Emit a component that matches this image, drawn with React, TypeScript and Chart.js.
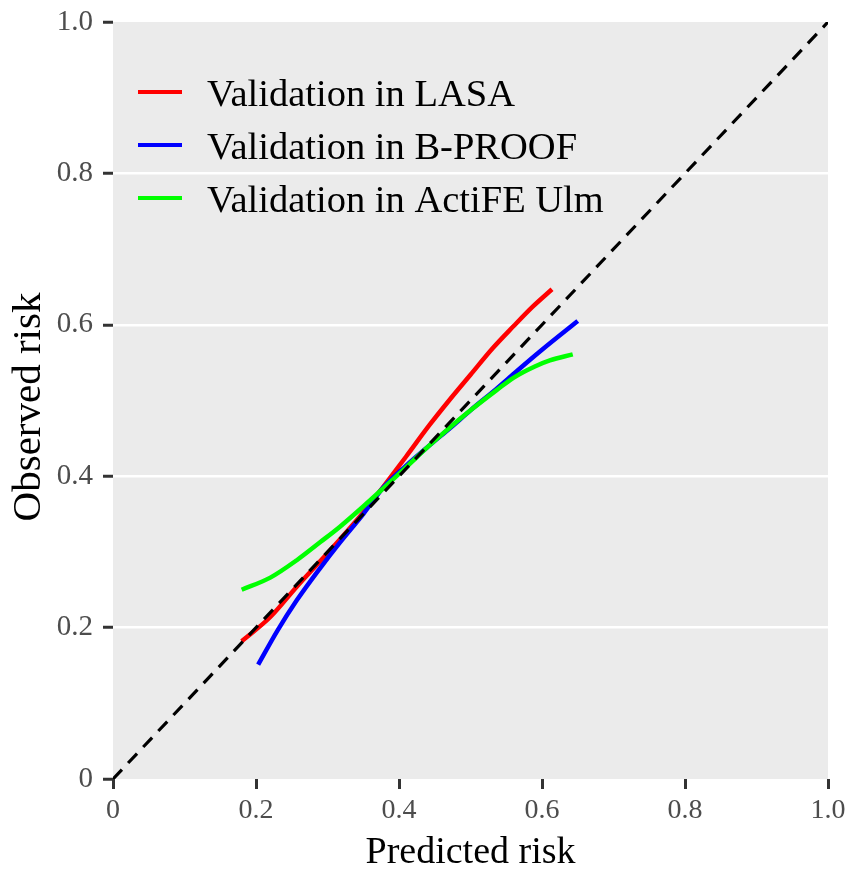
import React, { useEffect, useRef } from "react";
import { Chart, registerables } from "chart.js";

Chart.register(...registerables);

const seriesNames = ["Validation in LASA", "Validation in B-PROOF", "Validation in ActiFE Ulm"];
const seriesColors = ["#FF0000", "#0000FF", "#00FF00"];

const lasaX = [0.18, 0.22, 0.257, 0.29, 0.317, 0.35, 0.378, 0.41, 0.443, 0.47, 0.5, 0.531, 0.56, 0.587, 0.614];
const lasaY = [0.182, 0.214, 0.254, 0.288, 0.316, 0.352, 0.386, 0.426, 0.468, 0.5, 0.534, 0.569, 0.598, 0.624, 0.647];

const bproofX = [0.203, 0.23, 0.257, 0.29, 0.317, 0.35, 0.378, 0.41, 0.443, 0.472, 0.5, 0.537, 0.565, 0.6, 0.65];
const bproofY = [0.151, 0.196, 0.236, 0.279, 0.312, 0.35, 0.385, 0.414, 0.441, 0.464, 0.487, 0.516, 0.539, 0.567, 0.605];

const actifeX = [0.18, 0.22, 0.257, 0.29, 0.317, 0.35, 0.378, 0.41, 0.443, 0.472, 0.5, 0.537, 0.56, 0.59, 0.611, 0.643];
const actifeY = [0.25, 0.266, 0.289, 0.313, 0.333, 0.36, 0.384, 0.412, 0.441, 0.465, 0.487, 0.514, 0.53, 0.545, 0.553, 0.561];

const refLineX = [0, 1];
const refLineY = [0, 1];

const xTickLabels = ["0", "0.2", "0.4", "0.6", "0.8", "1.0"];
const yTickLabels = ["0", "0.2", "0.4", "0.6", "0.8", "1.0"];

const xTitle = "Predicted risk";
const yTitle = "Observed risk";

const FONT = "'Liberation Serif', 'Times New Roman', serif";

const toPoints = (xs: number[], ys: number[]) => xs.map((x, i) => ({ x, y: ys[i] }));

const panelPlugin = {
  id: "panelBg",
  beforeDraw(chart: any) {
    const { ctx, chartArea } = chart;
    ctx.save();
    ctx.fillStyle = "#EBEBEB";
    ctx.fillRect(chartArea.left, chartArea.top, chartArea.right - chartArea.left, chartArea.bottom - chartArea.top);
    ctx.restore();
  },
};

const legendPlugin = {
  id: "insideLegend",
  afterDatasetsDraw(chart: any) {
    const { ctx, chartArea } = chart;
    ctx.save();
    ctx.font = `38.5px ${FONT}`;
    ctx.textBaseline = "alphabetic";
    ctx.textAlign = "left";
    seriesNames.forEach((name, i) => {
      const y = 92 + i * 53;
      ctx.strokeStyle = seriesColors[i];
      ctx.lineWidth = 4;
      ctx.beginPath();
      ctx.moveTo(138, y);
      ctx.lineTo(182, y);
      ctx.stroke();
      ctx.fillStyle = "#000000";
      ctx.fillText(name, 207, y + 14);
    });
    ctx.restore();

    // axis titles
    ctx.save();
    ctx.fillStyle = "#000000";
    ctx.font = `38px ${FONT}`;
    ctx.textAlign = "center";
    ctx.textBaseline = "alphabetic";
    ctx.fillText(xTitle, (chartArea.left + chartArea.right) / 2, 863);
    ctx.translate(40, 407);
    ctx.rotate(-Math.PI / 2);
    ctx.font = `41px ${FONT}`;
    ctx.fillText(yTitle, 0, 0);
    ctx.restore();
  },
};

export default function App() {
  const ref = useRef<HTMLCanvasElement>(null);
  useEffect(() => {
    if (!ref.current) return;
    const lineDs = (label: string, xs: number[], ys: number[], color: string) => ({
      label,
      data: toPoints(xs, ys),
      showLine: true,
      borderColor: color,
      backgroundColor: color,
      borderWidth: 4.5,
      pointRadius: 0,
      cubicInterpolationMode: "monotone" as const,
    });
    const chart = new Chart(ref.current, {
      type: "scatter",
      data: {
        datasets: [
          {
            label: "reference",
            data: toPoints(refLineX, refLineY),
            showLine: true,
            borderColor: "#000000",
            borderWidth: 3.2,
            borderDash: [13, 9],
            pointRadius: 0,
          },
          lineDs(seriesNames[2], actifeX, actifeY, seriesColors[2]),
          lineDs(seriesNames[1], bproofX, bproofY, seriesColors[1]),
          lineDs(seriesNames[0], lasaX, lasaY, seriesColors[0]),
        ],
      },
      options: {
        animation: false,
        responsive: false,
        maintainAspectRatio: false,
        layout: { padding: { top: 22, right: 21, left: 0, bottom: 0 } },
        plugins: { legend: { display: false }, tooltip: { enabled: false } },
        scales: {
          x: {
            type: "linear",
            min: 0,
            max: 1,
            afterBuildTicks: (scale: any) => {
              scale.ticks = xTickLabels.map((_, i) => ({ value: i * 0.2 }));
            },
            afterFit: (scale: any) => {
              scale.height = 90;
              scale.paddingLeft = 0;
              scale.paddingRight = 0;
            },
            border: { display: false },
            grid: {
              color: "rgba(0,0,0,0)",
              tickColor: "#333333",
              tickLength: 10,
              tickWidth: 3,
              drawOnChartArea: false,
            },
            ticks: {
              autoSkip: false,
              maxRotation: 0,
              padding: 5,
              color: "#4D4D4D",
              font: { family: FONT, size: 28 },
              callback: (_v: any, i: number) => xTickLabels[i],
            },
          },
          y: {
            type: "linear",
            min: 0,
            max: 1,
            afterBuildTicks: (scale: any) => {
              scale.ticks = yTickLabels.map((_, i) => ({ value: i * 0.2 }));
            },
            afterFit: (scale: any) => {
              scale.width = 113;
              scale.paddingTop = 0;
              scale.paddingBottom = 0;
            },
            border: { display: false },
            grid: {
              color: (c: any) => (c.tick && c.tick.value > 0.01 && c.tick.value < 0.99 ? "#FFFFFF" : "rgba(0,0,0,0)"),
              lineWidth: 2.5,
              tickColor: "#333333",
              tickLength: 10,
              tickWidth: 3,
            },
            ticks: {
              autoSkip: false,
              padding: 10,
              color: "#4D4D4D",
              font: { family: FONT, size: 29 },
              callback: (_v: any, i: number) => yTickLabels[i],
            },
          },
        },
      },
      plugins: [panelPlugin, legendPlugin],
    });
    return () => chart.destroy();
  }, []);
  return (
    <div style={{ position: "fixed", left: 0, top: 0, width: 849, height: 869, background: "#FFFFFF" }}>
      <canvas ref={ref} width={849} height={869} style={{ width: 849, height: 869, display: "block" }} />
    </div>
  );
}
